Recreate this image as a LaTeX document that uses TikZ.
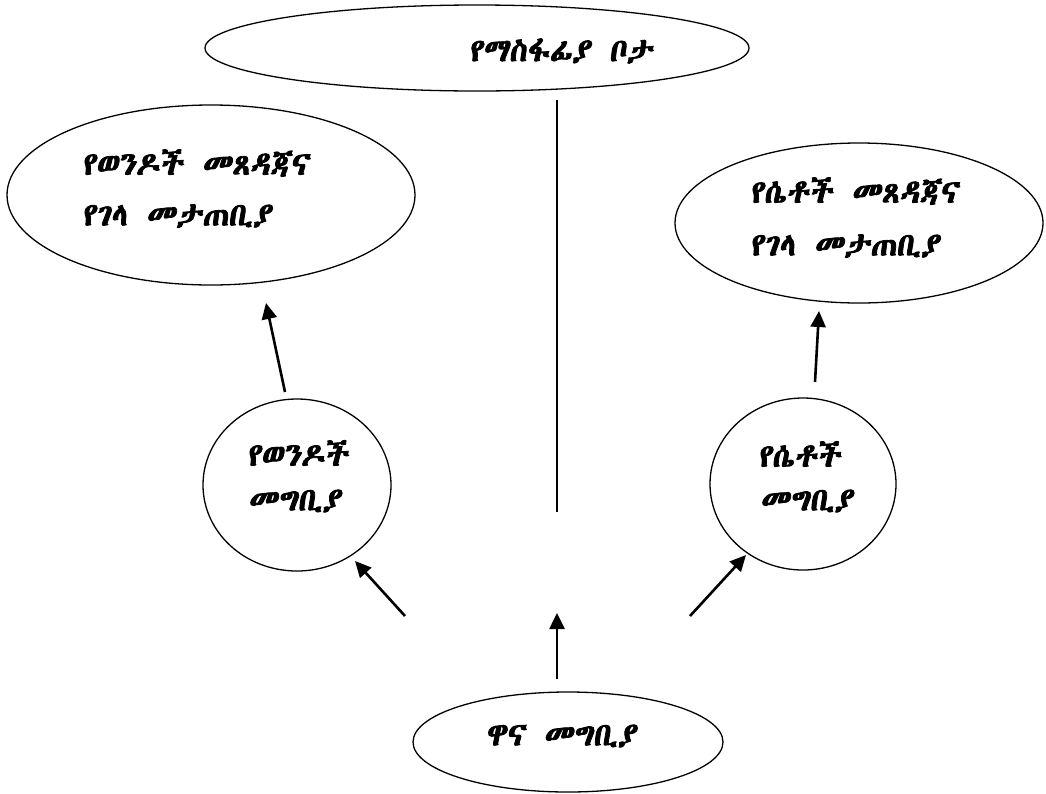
\documentclass[tikz,border=0pt]{standalone}
\usepackage{fontspec}
\IfFontExistsTF{Abyssinica SIL}{\newfontfamily\eth[FakeSlant=0.12,FakeBold=2.5,WordSpace=1.3]{Abyssinica SIL}}{%
  \newfontfamily\eth{DejaVu Sans}}
\newcommand\ethsize{\eth\fontsize{32}{36}\selectfont}
\usetikzlibrary{shapes.geometric,arrows.meta}
\begin{document}
\begin{tikzpicture}[x=1pt,y=-1pt]
\tikzset{
  oval/.style={draw, ellipse, line width=1.3pt, inner sep=0pt},
  lbl/.style={font=\ethsize, inner sep=0pt},
  arr/.style={line width=2.6pt, -{Triangle[length=16pt,width=15pt]}},
  plain/.style={line width=1.3pt}
}
\useasboundingbox[fill=white] (0,0) rectangle (1046,793);
% ovals
\node[oval, minimum width=544pt, minimum height=86pt] (top) at (477,48) {};
\node[oval, minimum width=408pt, minimum height=180pt] (lt) at (211,195) {};
\node[oval, minimum width=368pt, minimum height=160pt] (rt) at (859,223) {};
\node[oval, minimum width=188pt, minimum height=172pt] (lc) at (297,485) {};
\node[oval, minimum width=186pt, minimum height=172pt] (rc) at (803,484) {};
\node[oval, minimum width=310pt, minimum height=100pt] (bot) at (568,742) {};
% labels
\node[lbl] (ttop) at (561,51) {የማስፋፊያ ቦታ};
\node[lbl, anchor=west] (lt1) at (82,163) {የወንዶች መጸዳጃና};
\node[lbl, anchor=west] (lt2) at (82,216) {የገላ መታጠቢያ};
\node[lbl, anchor=west] (rt1) at (750,191) {የሴቶች መጸዳጃና};
\node[lbl, anchor=west] (rt2) at (750,246) {የገላ መታጠቢያ};
\node[lbl, anchor=west] (lc1) at (247,453) {የወንዶች};
\node[lbl, anchor=west] (lc2) at (248,501) {መግቢያ};
\node[lbl, anchor=west] (rc1) at (758,454) {የሴቶች};
\node[lbl, anchor=west] (rc2) at (760,501) {መግቢያ};
\node[lbl] (tbot) at (561,736) {ዋና መግቢያ};
% connector ends
\coordinate (va) at (557,100);
\coordinate (vb) at (557,512);
\coordinate (a1s) at (285,392); \coordinate (a1e) at (266,303);
\coordinate (a2s) at (815,382); \coordinate (a2e) at (819,311);
\coordinate (a3s) at (405,616); \coordinate (a3e) at (355,561);
\coordinate (a4s) at (690,616); \coordinate (a4e) at (746,555);
\coordinate (a5s) at (557,679); \coordinate (a5e) at (557,613);
% connectors
\draw[plain] (va) -- (vb);
\draw[arr] (a1s) -- (a1e);
\draw[arr] (a2s) -- (a2e);
\draw[arr] (a3s) -- (a3e);
\draw[arr] (a4s) -- (a4e);
\draw[arr] (a5s) -- (a5e);
\end{tikzpicture}
\end{document}
